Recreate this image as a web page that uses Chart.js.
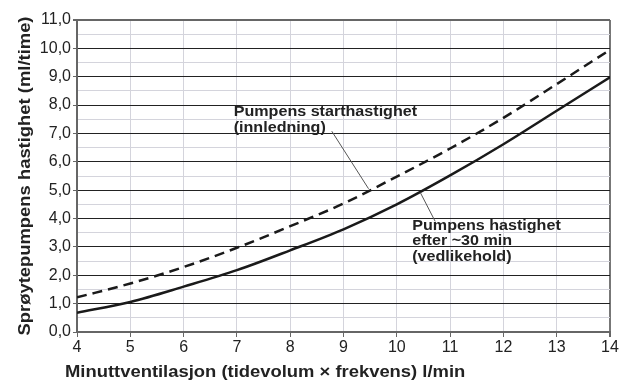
<!DOCTYPE html>
<html>
<head>
<meta charset="utf-8">
<script src="https://cdn.jsdelivr.net/npm/chart.js@4.4.1/dist/chart.umd.min.js"></script>
<style>
    html, body { margin: 0; padding: 0; background: #fff; }
    #wrap { width: 620px; height: 381px; }
</style>
</head>
<body>
<div id="wrap"><canvas id="pumpChart" width="620" height="381"></canvas></div>
<script>
// minute ventilation (l/min)
const ventilation = [4, 5, 6, 7, 8, 9, 10, 11, 12, 13, 14];
// start rate (dashed) and rate after ~30 min (solid), ml/time
const startRate = [1.22, 1.71, 2.29, 2.97, 3.73, 4.53, 5.48, 6.47, 7.55, 8.74, 9.95];
const laterRate = [0.68, 1.06, 1.60, 2.18, 2.88, 3.62, 4.50, 5.52, 6.62, 7.80, 8.98];

const yTitle = 'Sprøytepumpens hastighet (ml/time)';
const xTitle = 'Minuttventilasjon (tidevolum × frekvens) l/min';

// callout texts, anchored in data units
const notes = [
    { lines: ['Pumpens starthastighet', '(innledning)'], x: 6.94, y: 7.61, from: [8.78, 7.08], to: [9.47, 5.05] },
    { lines: ['Pumpens hastighet', 'efter ~30 min', '(vedlikehold)'], x: 10.29, y: 3.61, from: [10.44, 4.92], to: [10.72, 3.90] }
];

const FONT = '"Liberation Sans", Arial, sans-serif';
const STRETCH = 1.15;

function toPoints(xs, ys) {
    return xs.map((x, i) => ({ x: x, y: ys[i] }));
}

function stretchedText(ctx, txt, x, y, size, align) {
    ctx.save();
    ctx.font = 'bold ' + size + 'px ' + FONT;
    const w = ctx.measureText(txt).width * STRETCH;
    let left = x;
    if (align === 'center') left = x - w / 2;
    ctx.translate(left, y);
    ctx.scale(STRETCH, 1);
    ctx.textAlign = 'left';
    ctx.fillText(txt, 0, 0);
    ctx.restore();
}

const decor = {
    id: 'decor',
    afterDraw(chart) {
        const ctx = chart.ctx;
        const xs = chart.scales.x, ys = chart.scales.y;
        ctx.save();
        ctx.fillStyle = '#222';
        ctx.textBaseline = 'alphabetic';

        // leader lines + callouts
        notes.forEach(n => {
            ctx.strokeStyle = '#555';
            ctx.lineWidth = 1;
            ctx.beginPath();
            ctx.moveTo(xs.getPixelForValue(n.from[0]), ys.getPixelForValue(n.from[1]));
            ctx.lineTo(xs.getPixelForValue(n.to[0]), ys.getPixelForValue(n.to[1]));
            ctx.stroke();
            const px = xs.getPixelForValue(n.x);
            const py = ys.getPixelForValue(n.y);
            n.lines.forEach((t, i) => stretchedText(ctx, t, px, py + i * 15.5, 14, 'left'));
        });

        // axis titles
        stretchedText(ctx, xTitle, 65, 377, 16, 'left');
        ctx.save();
        ctx.translate(30, 176);
        ctx.rotate(-Math.PI / 2);
        stretchedText(ctx, yTitle, 0, 0, 16, 'center');
        ctx.restore();

        ctx.restore();
    }
};

const ctx = document.getElementById('pumpChart').getContext('2d');
new Chart(ctx, {
    type: 'line',
    data: {
        datasets: [
            {
                label: 'Pumpens starthastighet',
                data: toPoints(ventilation, startRate),
                borderColor: '#1a1a1a',
                borderWidth: 2.5,
                borderDash: [10, 6],
                pointRadius: 0,
                cubicInterpolationMode: 'monotone',
                fill: false
            },
            {
                label: 'Pumpens hastighet efter ~30 min',
                data: toPoints(ventilation, laterRate),
                borderColor: '#1a1a1a',
                borderWidth: 2.5,
                pointRadius: 0,
                cubicInterpolationMode: 'monotone',
                fill: false
            }
        ]
    },
    options: {
        responsive: false,
        animation: false,
        layout: { padding: { top: 20, right: 10, left: 0, bottom: 0 } },
        plugins: {
            legend: { display: false },
            tooltip: { enabled: false }
        },
        scales: {
            x: {
                type: 'linear',
                min: 4,
                max: 14,
                afterFit: s => { s.height = 49; },
                ticks: {
                    stepSize: 1,
                    color: '#222',
                    padding: 1,
                    font: { family: FONT, size: 16 }
                },
                grid: {
                    color: c => c.tick && c.tick.value === 14 ? '#777' : '#d4d4dc',
                    lineWidth: c => c.tick && c.tick.value === 14 ? 2 : 1,
                    tickColor: '#666',
                    tickLength: 5
                },
                border: { color: '#666', width: 2 }
            },
            y: {
                min: 0,
                max: 11,
                afterFit: s => { s.width = 77; },
                ticks: {
                    stepSize: 0.5,
                    color: '#222',
                    padding: 2,
                    autoSkip: false,
                    font: { family: FONT, size: 16 },
                    callback: v => (v % 1 === 0 ? v.toFixed(1).replace('.', ',') : '')
                },
                grid: {
                    color: c => {
                        const v = c.tick ? c.tick.value : 0;
                        if (v === 11) return '#666';
                        return v % 1 === 0 ? '#222' : '#d4d4dc';
                    },
                    lineWidth: c => (c.tick && c.tick.value === 11 ? 2 : 1),
                    tickColor: c => (c.tick && c.tick.value % 1 === 0 ? '#666' : 'rgba(0,0,0,0)'),
                    tickLength: 4
                },
                border: { color: '#666', width: 2 }
            }
        }
    },
    plugins: [decor]
});
</script>
</body>
</html>
